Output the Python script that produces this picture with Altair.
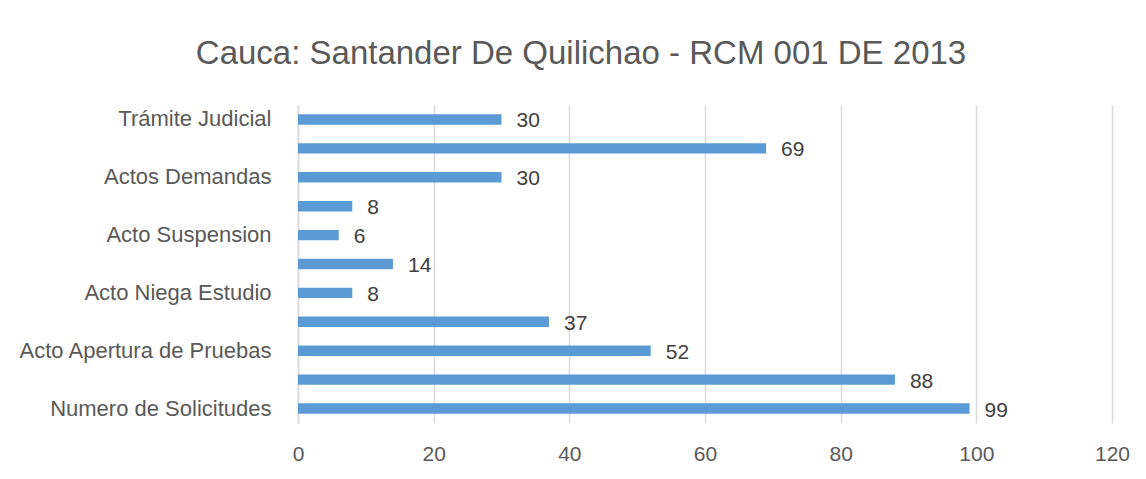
import altair as alt
import pandas as pd

categories = [
    "Trámite Judicial",
    "Acto Admisorio",
    "Actos Demandas",
    "Acto Inscripción",
    "Acto Suspension",
    "Acto Acumulación",
    "Acto Niega Estudio",
    "Acto Inicia Estudio",
    "Acto Apertura de Pruebas",
    "Acto Inclusión",
    "Numero de Solicitudes",
]
values = [30, 69, 30, 8, 6, 14, 8, 37, 52, 88, 99]
visible_labels = [
    "Trámite Judicial",
    "Actos Demandas",
    "Acto Suspension",
    "Acto Niega Estudio",
    "Acto Apertura de Pruebas",
    "Numero de Solicitudes",
]
x_ticks = [0, 20, 40, 60, 80, 100, 120]

df = pd.DataFrame({"categoria": categories, "valor": values})

vis_js = "[" + ",".join("'" + s + "'" for s in visible_labels) + "]"

y_enc = alt.Y(
    "categoria:N",
    sort=categories,
    scale=alt.Scale(paddingInner=0.64, paddingOuter=0.32),
    axis=alt.Axis(
        title=None,
        ticks=False,
        domainColor="#d9d9d9",
        domainWidth=1.5,
        labelFont="Liberation Sans",
        labelFontSize=22,
        labelColor="#595959",
        labelPadding=27,
        labelLimit=400,
        labelExpr="indexof(" + vis_js + ", datum.label) >= 0 ? datum.label : ''",
    ),
)
x_enc = alt.X(
    "valor:Q",
    scale=alt.Scale(domain=[0, 120], nice=False),
    axis=alt.Axis(
        title=None,
        values=x_ticks,
        domain=False,
        ticks=False,
        grid=True,
        gridColor="#d9d9d9",
        gridWidth=1.5,
        labelFlush=False,
        labelFont="Liberation Sans",
        labelFontSize=21,
        labelColor="#595959",
        labelPadding=20,
    ),
)

base = alt.Chart(df)
bars = base.mark_bar(color="#5b9bd5").encode(y=y_enc, x=x_enc)
texts = base.mark_text(
    align="left", baseline="middle", dx=15, dy=2,
    font="Liberation Sans", fontSize=21, color="#404040"
).encode(y=alt.Y("categoria:N", sort=categories), x="valor:Q", text="valor:Q")

chart = (
    alt.layer(bars, texts)
    .properties(
        width=814,
        height=318,
        autosize="none",
        padding={"left": 290, "top": 97, "right": 22, "bottom": 48},
        title=alt.TitleParams(
            "Cauca: Santander De Quilichao - RCM 001 DE 2013",
            font="Liberation Sans",
            fontSize=33,
            fontWeight="normal",
            color="#595959",
            anchor="middle",
            frame="group",
            dx=-124,
            offset=8,
            baseline="alphabetic",
        ),
    )
    .configure_view(stroke=None)
)

chart.save("out.html", embed_options={"renderer": "svg", "actions": False})
